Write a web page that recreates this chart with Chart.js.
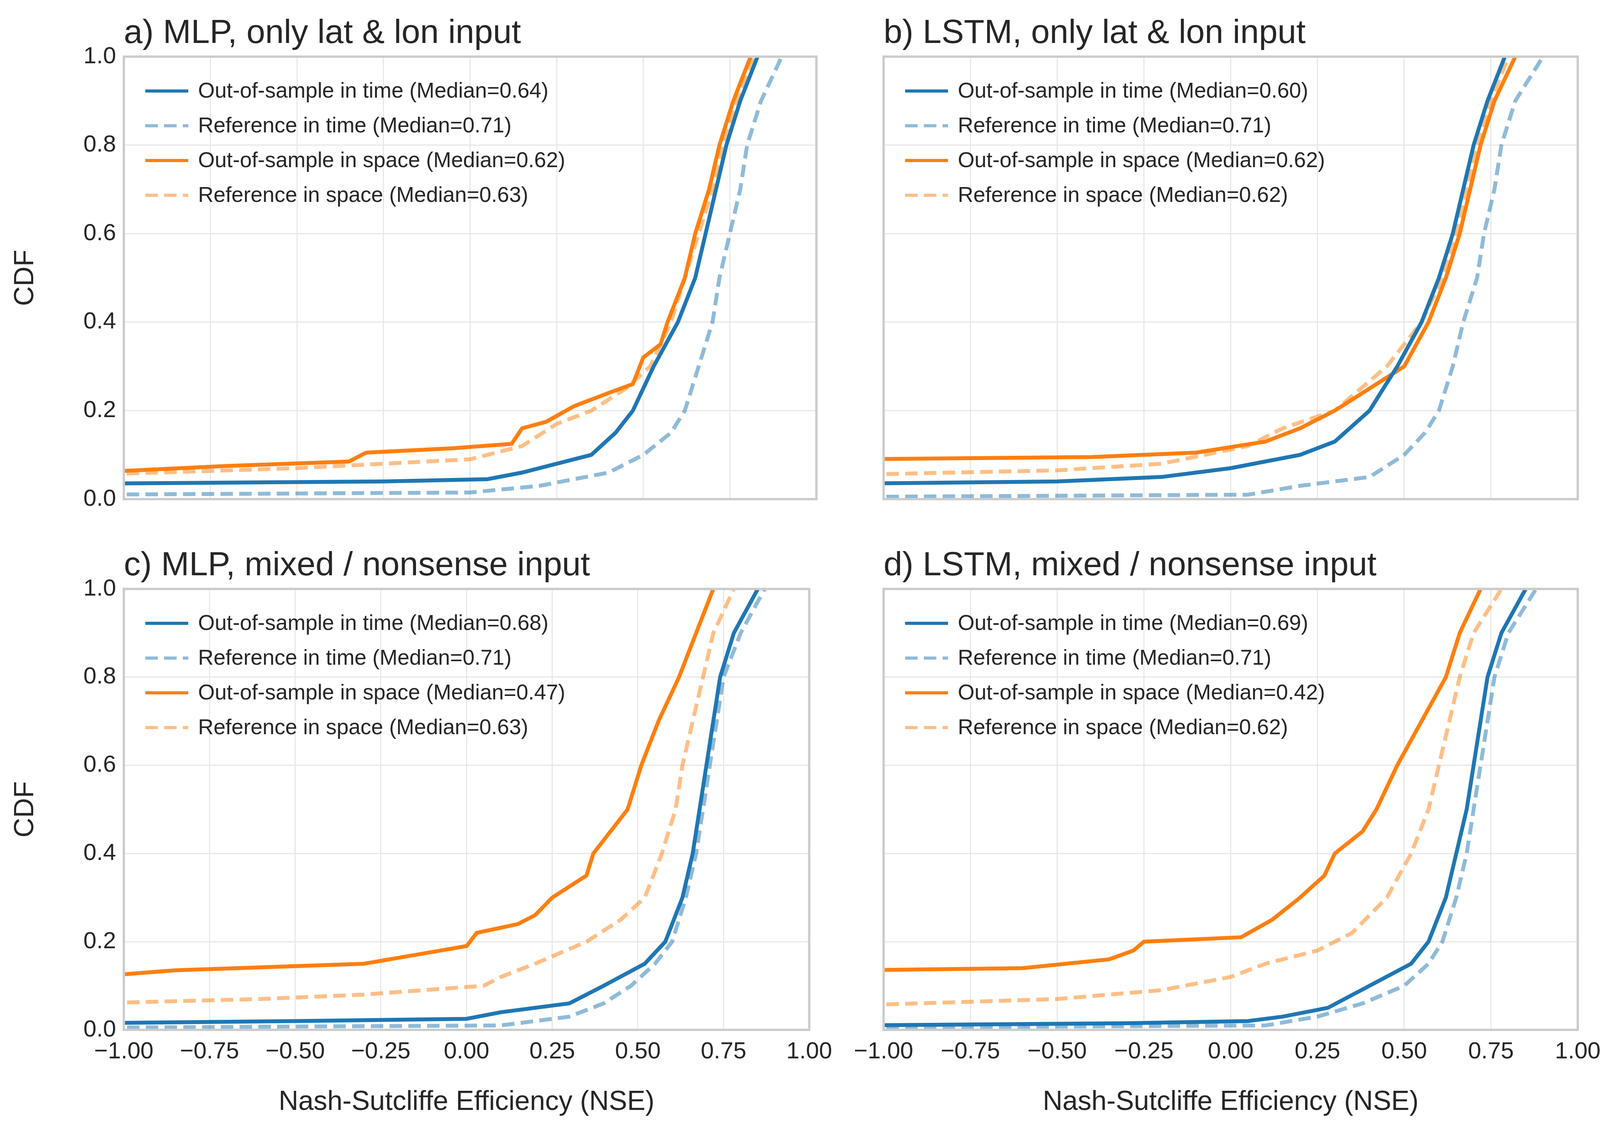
<!DOCTYPE html>
<html><head><meta charset="utf-8">
<script src="https://cdn.jsdelivr.net/npm/chart.js@4.4.0/dist/chart.umd.min.js"></script>
<style>body{margin:0;background:#fff;width:4127px;height:2919px;position:relative;overflow:hidden}
.p{position:absolute}</style></head><body>
<div class="p" style="left:0;top:0;width:2150px;height:1400px"><canvas id="a"></canvas></div>
<div class="p" style="left:2150px;top:0;width:1977px;height:1400px"><canvas id="b"></canvas></div>
<div class="p" style="left:0;top:1400px;width:2150px;height:1519px"><canvas id="c"></canvas></div>
<div class="p" style="left:2150px;top:1400px;width:1977px;height:1519px"><canvas id="d"></canvas></div>
<script>
// Each curve: [NSE, CDF] pairs
const aTime=[[-1.1,0.035],[-0.25,0.04],[0.05,0.045],[0.15,0.06],[0.25,0.08],[0.35,0.1],[0.42,0.15],[0.47,0.2],[0.53,0.3],[0.6,0.4],[0.65,0.5],[0.68,0.6],[0.71,0.7],[0.74,0.8],[0.78,0.9],[0.83,1.0]];
const aRefTime=[[-1.1,0.01],[0,0.015],[0.2,0.03],[0.4,0.06],[0.5,0.1],[0.58,0.15],[0.62,0.2],[0.66,0.3],[0.7,0.4],[0.72,0.5],[0.75,0.6],[0.78,0.7],[0.8,0.8],[0.84,0.9],[0.9,1.0]];
const aSpace=[[-1.1,0.06],[-0.7,0.075],[-0.35,0.085],[-0.3,0.105],[-0.05,0.115],[0.12,0.125],[0.15,0.16],[0.22,0.175],[0.3,0.21],[0.4,0.24],[0.47,0.26],[0.5,0.32],[0.55,0.35],[0.57,0.4],[0.62,0.5],[0.65,0.6],[0.69,0.7],[0.72,0.8],[0.76,0.9],[0.81,1.0]];
const aRefSpace=[[-1.1,0.055],[-0.5,0.07],[0,0.09],[0.15,0.12],[0.25,0.17],[0.35,0.2],[0.45,0.25],[0.52,0.3],[0.58,0.4],[0.62,0.5],[0.66,0.6],[0.7,0.7],[0.73,0.8],[0.77,0.9],[0.82,1.0]];
const bTime=[[-1.1,0.035],[-0.5,0.04],[-0.2,0.05],[0,0.07],[0.2,0.1],[0.3,0.13],[0.4,0.2],[0.48,0.3],[0.55,0.4],[0.6,0.5],[0.64,0.6],[0.67,0.7],[0.7,0.8],[0.74,0.9],[0.79,1.0]];
const bRefTime=[[-1.1,0.005],[0.05,0.01],[0.2,0.03],[0.4,0.05],[0.5,0.1],[0.56,0.15],[0.6,0.2],[0.64,0.3],[0.67,0.4],[0.71,0.5],[0.73,0.6],[0.76,0.7],[0.78,0.8],[0.82,0.9],[0.9,1.0]];
const bSpace=[[-1.1,0.09],[-0.4,0.095],[-0.1,0.105],[0.1,0.13],[0.2,0.16],[0.3,0.2],[0.4,0.25],[0.5,0.3],[0.57,0.4],[0.62,0.5],[0.66,0.6],[0.69,0.7],[0.72,0.8],[0.76,0.9],[0.82,1.0]];
const bRefSpace=[[-1.1,0.055],[-0.5,0.065],[-0.2,0.08],[0.05,0.12],[0.15,0.16],[0.3,0.2],[0.45,0.3],[0.55,0.4],[0.61,0.5],[0.65,0.6],[0.68,0.7],[0.71,0.8],[0.75,0.9],[0.8,1.0]];
const cTime=[[-1.1,0.015],[-0.5,0.02],[0,0.025],[0.1,0.04],[0.3,0.06],[0.4,0.1],[0.52,0.15],[0.58,0.2],[0.63,0.3],[0.66,0.4],[0.68,0.5],[0.7,0.6],[0.72,0.7],[0.74,0.8],[0.78,0.9],[0.85,1.0]];
const cRefTime=[[-1.1,0.005],[0.1,0.01],[0.3,0.03],[0.4,0.06],[0.48,0.1],[0.55,0.15],[0.6,0.2],[0.64,0.3],[0.67,0.4],[0.69,0.5],[0.71,0.6],[0.73,0.7],[0.75,0.8],[0.8,0.9],[0.87,1.0]];
const cSpace=[[-1.1,0.12],[-0.85,0.135],[-0.3,0.15],[-0.15,0.17],[0,0.19],[0.03,0.22],[0.15,0.24],[0.2,0.26],[0.25,0.3],[0.35,0.35],[0.37,0.4],[0.42,0.45],[0.47,0.5],[0.51,0.6],[0.56,0.7],[0.62,0.8],[0.67,0.9],[0.72,1.0]];
const cRefSpace=[[-1.1,0.06],[-0.6,0.07],[-0.3,0.08],[0.05,0.1],[0.1,0.12],[0.2,0.15],[0.35,0.2],[0.45,0.25],[0.52,0.3],[0.57,0.4],[0.61,0.5],[0.63,0.6],[0.66,0.7],[0.69,0.8],[0.72,0.9],[0.78,1.0]];
const dTime=[[-1.1,0.01],[-0.3,0.015],[0.05,0.02],[0.15,0.03],[0.28,0.05],[0.4,0.1],[0.52,0.15],[0.57,0.2],[0.62,0.3],[0.65,0.4],[0.68,0.5],[0.7,0.6],[0.72,0.7],[0.74,0.8],[0.78,0.9],[0.85,1.0]];
const dRefTime=[[-1.1,0.005],[0.1,0.01],[0.25,0.03],[0.38,0.06],[0.5,0.1],[0.57,0.15],[0.61,0.2],[0.65,0.3],[0.68,0.4],[0.7,0.5],[0.72,0.6],[0.74,0.7],[0.76,0.8],[0.8,0.9],[0.88,1.0]];
const dSpace=[[-1.1,0.135],[-0.6,0.14],[-0.35,0.16],[-0.28,0.18],[-0.25,0.2],[0.03,0.21],[0.12,0.25],[0.2,0.3],[0.27,0.35],[0.3,0.4],[0.38,0.45],[0.42,0.5],[0.48,0.6],[0.55,0.7],[0.62,0.8],[0.66,0.9],[0.72,1.0]];
const dRefSpace=[[-1.1,0.055],[-0.5,0.07],[-0.2,0.09],[0,0.12],[0.1,0.15],[0.25,0.18],[0.35,0.22],[0.45,0.3],[0.52,0.4],[0.57,0.5],[0.6,0.6],[0.63,0.7],[0.66,0.8],[0.7,0.9],[0.78,1.0]];
const xTicks=[-1,-0.75,-0.5,-0.25,0,0.25,0.5,0.75,1];
const yTicks=[0,0.2,0.4,0.6,0.8,1.0];
const titles=["a) MLP, only lat & lon input","b) LSTM, only lat & lon input","c) MLP, mixed / nonsense input","d) LSTM, mixed / nonsense input"];
const medians=[[0.64,0.71,0.62,0.63],[0.60,0.71,0.62,0.62],[0.68,0.71,0.47,0.63],[0.69,0.71,0.42,0.62]];
const FONT="Arial, 'Liberation Sans', sans-serif";
const styles=[{c:'#1f77b4',d:[]},{c:'rgba(31,119,180,0.5)',d:[32,16]},{c:'#ff7f0e',d:[]},{c:'rgba(255,127,14,0.5)',d:[32,16]}];
const names=["Out-of-sample in time","Reference in time","Out-of-sample in space","Reference in space"];
const deco={id:'deco',afterDraw(ch){
  const o=ch.options.plugins.deco, a=ch.chartArea, x=ch.ctx;
  x.save();
  x.strokeStyle='#cccccc';x.lineWidth=6;x.strokeRect(a.left,a.top,a.right-a.left,a.bottom-a.top);
  x.fillStyle='#262626';x.font='86px '+FONT;x.textBaseline='bottom';x.textAlign='left';
  x.fillText(o.title,a.left,a.top-16);
  x.font='55px '+FONT;x.textBaseline='middle';
  ch.data.datasets.forEach((ds,i)=>{
    const y=a.top+88+i*89, x0=a.left+55;
    x.strokeStyle=ds.borderColor;x.lineWidth=8;x.setLineDash(ds.borderDash||[]);
    x.beginPath();x.moveTo(x0,y);x.lineTo(x0+110,y);x.stroke();x.setLineDash([]);
    x.fillStyle='#262626';x.fillText(ds.label,x0+135,y+2);
  });
  x.restore();
}};
function make(id,curves,k,left,bottom){
  const top=bottom?108:145;
  new Chart(document.getElementById(id),{type:'line',
    data:{datasets:curves.map((cv,i)=>({label:names[i]+' (Median='+medians[k][i].toFixed(2)+')',
      data:cv.map(p=>({x:p[0],y:p[1]})),borderColor:styles[i].c,borderDash:styles[i].d,borderWidth:10,pointRadius:0,tension:0}))},
    plugins:[deco],
    options:{animation:false,responsive:true,maintainAspectRatio:false,devicePixelRatio:1,
      layout:{padding:{top:top,right:left?60:88,left:20,bottom:bottom?50:0}},
      plugins:{legend:{display:false},tooltip:{enabled:false},deco:{title:titles[k]}},
      scales:{
        x:{type:'linear',min:-1,max:1,afterBuildTicks:s=>{s.ticks=xTicks.map(v=>({value:v}))},
          afterFit:s=>{s.height=bottom?232:122},
          grid:{color:'#e8e8e8',lineWidth:3,borderDash:[3,9],drawTicks:false},border:{display:false},
          ticks:{display:bottom,color:'#262626',font:{size:60,family:FONT},padding:20,maxRotation:0,callback:v=>(v<0?'\u2212':'')+Math.abs(v).toFixed(2)},
          title:{display:bottom,text:'Nash-Sutcliffe Efficiency (NSE)',color:'#262626',font:{size:70,family:FONT},padding:{top:20}}},
        y:{min:0,max:1,afterBuildTicks:s=>{s.ticks=yTicks.map(v=>({value:v}))},
          afterFit:s=>{s.width=left?297:92},
          grid:{color:'#e8e8e8',lineWidth:3,borderDash:[3,9],drawTicks:false},border:{display:false},
          ticks:{display:left,color:'#262626',font:{size:60,family:FONT},padding:20,callback:v=>v.toFixed(1)},
          title:{display:left,text:'CDF',color:'#262626',font:{size:70,family:FONT},padding:{bottom:25}}}
      }}});
}
make('a',[aTime,aRefTime,aSpace,aRefSpace],0,true,false);
make('b',[bTime,bRefTime,bSpace,bRefSpace],1,false,false);
make('c',[cTime,cRefTime,cSpace,cRefSpace],2,true,true);
make('d',[dTime,dRefTime,dSpace,dRefSpace],3,false,true);
</script></body></html>
